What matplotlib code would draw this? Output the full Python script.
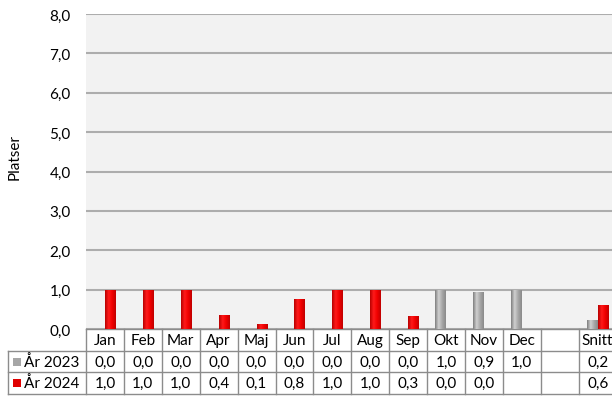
import numpy as np
import matplotlib
matplotlib.use("Agg")
import matplotlib.pyplot as plt
from matplotlib.colors import LinearSegmentedColormap
from matplotlib.patches import Rectangle
from matplotlib.transforms import blended_transform_factory

plt.rcParams['font.family'] = ['Lato', 'DejaVu Sans']

months = ["Jan", "Feb", "Mar", "Apr", "Maj", "Jun", "Jul", "Aug", "Sep",
          "Okt", "Nov", "Dec", "", "Snitt"]
series_names = ["År 2023", "År 2024"]
# nan = empty cell
y2023 = [0.0, 0.0, 0.0, 0.0, 0.0, 0.0, 0.0, 0.0, 0.0, 1.0, 0.93, 1.0, np.nan, 0.24]
y2024 = [1.0, 1.0, 1.0, 0.36, 0.12, 0.77, 1.0, 1.0, 0.32, 0.0, 0.0, np.nan, np.nan, 0.60]

W, H = 612, 410
col_px = 37.9
left_px = 86
fs = 11
fig = plt.figure(figsize=(W / 100, H / 100), dpi=100)
ax = fig.add_axes([left_px / W, 80 / H, (W - left_px) / W, 315 / H])
ax.set_facecolor('#F2F2F2')
for s in ax.spines.values():
    s.set_visible(False)

x = np.arange(len(months))
bw = 0.29
gray_cmap = LinearSegmentedColormap.from_list('g', ['#7F7F7F', '#D0D0D0', '#A6A6A6', '#8A8A8A'])
red_cmap = LinearSegmentedColormap.from_list('r', ['#B80000', '#FF1A1A', '#F00000', '#C00000'])
grad = np.linspace(0, 1, 64).reshape(1, -1)

bars23 = ax.bar(x - bw / 2, y2023, bw, color='#A6A6A6', zorder=3)
bars24 = ax.bar(x + bw / 2, y2024, bw, color='#FF0000', zorder=3)
for bars, cmap in ((bars23, gray_cmap), (bars24, red_cmap)):
    for p in bars:
        h = p.get_height()
        if not np.isfinite(h) or h <= 0:
            continue
        im = ax.imshow(grad, cmap=cmap, aspect='auto', zorder=4,
                       extent=[p.get_x(), p.get_x() + p.get_width(), 0, h])
        im.set_clip_path(p)

ax.set_xlim(-0.5, -0.5 + (W - left_px) / col_px)
ax.set_ylim(0, 8)
ax.set_yticks(range(9))
ax.set_yticklabels([f"{v:.1f}".replace('.', ',') for v in range(9)], fontsize=fs)
ax.tick_params(axis='y', length=0, pad=11)
ax.set_xticks([])
ax.yaxis.grid(True, color='#ADADAD', linewidth=1.5)
ax.set_axisbelow(True)

fig.text(15 / W, (H - 157) / H, "Platser", rotation=90, ha='center', va='center', fontsize=fs)

# data table below the plot
tr = blended_transform_factory(ax.transData, fig.transFigure)
def fy(py):
    return (H - py) / H

rows_px = [330, 352, 373, 395]
x_leg = -0.5 - (left_px - 8) / col_px
x_end = 14.5
lc = '#8C8C8C'
ax.plot([-0.5, x_end], [fy(330)] * 2, color=lc, lw=1, transform=tr, clip_on=False)
for py in rows_px[1:]:
    ax.plot([x_leg, x_end], [fy(py)] * 2, color=lc, lw=1, transform=tr, clip_on=False)
for i in range(len(months) + 1):
    ax.plot([i - 0.5] * 2, [fy(330), fy(395)], color=lc, lw=1, transform=tr, clip_on=False)
ax.plot([x_leg] * 2, [fy(352), fy(395)], color=lc, lw=1, transform=tr, clip_on=False)

for i, m in enumerate(months):
    ax.text(i, fy(341), m, ha='center', va='center', fontsize=fs, transform=tr)

key_colors = ['#A6A6A6', '#E00000']
for r, (name, vals) in enumerate(zip(series_names, (y2023, y2024))):
    yc = fy((rows_px[r + 1] + rows_px[r + 2]) / 2)
    for i, v in enumerate(vals):
        if np.isfinite(v):
            ax.text(i, yc, f"{v:.1f}".replace('.', ','), ha='center', va='center',
                    fontsize=fs, transform=tr)
    kx = -0.5 - (left_px - 13) / col_px
    ax.add_patch(Rectangle((kx, yc - 4 / H), 8 / col_px, 8 / H, facecolor=key_colors[r],
                           edgecolor='none', transform=tr, clip_on=False))
    ax.text(-0.5 - (left_px - 24) / col_px, yc, name, ha='left', va='center',
            fontsize=fs, transform=tr)

fig.savefig("out.png", dpi=100)
